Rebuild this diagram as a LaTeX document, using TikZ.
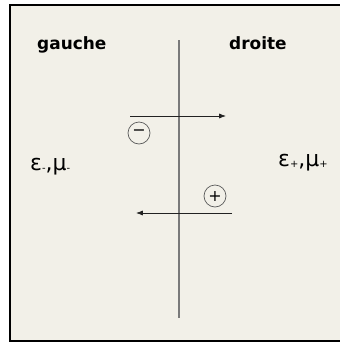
\documentclass[tikz,border=0pt]{standalone}
\usepackage{fontspec}
\setmainfont{DejaVu Sans}
\usetikzlibrary{arrows.meta,positioning}
\definecolor{paper}{HTML}{F2F0E8}
\definecolor{linegray}{HTML}{7A7A7A}
\definecolor{inkdark}{HTML}{222222}
\newcommand{\indbas}[1]{\raisebox{-1.5bp}{\fontsize{10}{10}\selectfont #1}}

\begin{document}
\begin{tikzpicture}[
    x=1bp, y=-1bp,
    side/.style={font=\bfseries\fontsize{17}{20}\selectfont, anchor=base west, inner sep=0pt},
    medium/.style={font=\fontsize{22}{24}\selectfont, anchor=base west, inner sep=0pt},
    charge/.style={draw=black!65, line width=0.7pt, circle, inner sep=0pt, minimum size=22bp, font=\fontsize{16}{16}\selectfont},
    arrow/.style={-{Latex[length=2.4mm, width=1.8mm]}, line width=0.8pt, draw=inkdark}
]
\useasboundingbox (0,0) rectangle (340,344);
\fill[white] (0,0) rectangle (340,344);
\draw[line width=2bp, fill=paper] (10,5) rectangle (346,341);
\node[side] (gauche) at (37,49) {gauche};
\node[side] (droite) at (229,49) {droite};
\node[medium] (mmoins) at (30,170) {ε\indbas{-},μ\indbas{-}};
\node[medium] (mplus) at (278,166) {ε\indbas{+},μ\indbas{+}};
\coordinate (haut) at (179,40);
\coordinate (bas) at (179,318);
\draw[linegray, line width=1.3bp] (haut) -- (bas);
\coordinate (a1) at (130,116);
\coordinate (a2) at (226,116);
\coordinate (b1) at (232,213);
\coordinate (b2) at (136,213);
\draw[arrow] (a1) -- (a2);
\draw[arrow] (b1) -- (b2);
\node[charge] (moins) at (139,133) {−};
\node[charge] (plus) at (215,196) {+};
\end{tikzpicture}
\end{document}
